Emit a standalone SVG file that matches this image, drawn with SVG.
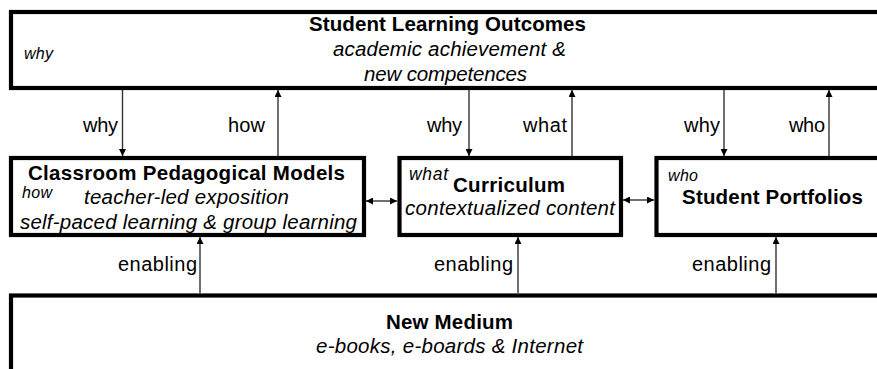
<svg xmlns="http://www.w3.org/2000/svg" width="877" height="369" viewBox="0 0 877 369">
  <style>
    text { font-family: "Liberation Sans", Arial, sans-serif; fill: #000; }
    .title { font-weight: bold; font-size: 20.5px; }
    .sub { font-style: italic; font-size: 20.5px; }
    .tag { font-style: italic; font-size: 16px; }
    .lbl { font-size: 20px; }
    .box { fill: #fff; stroke: #000; stroke-width: 4.2; }
    .link { stroke: #333; stroke-width: 1.4; fill: none; }
  </style>
  <defs>
    <marker id="arrow" viewBox="0 0 10 10" refX="10" refY="5" markerWidth="7" markerHeight="7" markerUnits="userSpaceOnUse" orient="auto-start-reverse">
      <path d="M0,0 L10,5 L0,10 z" fill="#000"/>
    </marker>
  </defs>

  <rect width="877" height="369" fill="#fff"/>

  <!-- top layer -->
  <g id="outcomes">
    <rect class="box" x="11" y="12" width="880" height="76"/>
    <text class="title" x="309" y="31" textLength="277" lengthAdjust="spacing">Student Learning Outcomes</text>
    <text class="sub" x="333" y="56" textLength="233" lengthAdjust="spacing">academic achievement &amp;</text>
    <text class="sub" x="364" y="81" textLength="163" lengthAdjust="spacing">new competences</text>
    <text class="tag" x="24" y="59" textLength="29" lengthAdjust="spacing">why</text>
  </g>

  <!-- middle layer -->
  <g id="pedagogy">
    <rect class="box" x="11" y="158" width="353" height="77"/>
    <text class="title" x="28" y="180" textLength="317" lengthAdjust="spacing">Classroom Pedagogical Models</text>
    <text class="tag" x="22" y="198" textLength="30" lengthAdjust="spacing">how</text>
    <text class="sub" x="84" y="204" textLength="205" lengthAdjust="spacing">teacher-led exposition</text>
    <text class="sub" x="20" y="229" textLength="337" lengthAdjust="spacing">self-paced learning &amp; group learning</text>
  </g>

  <g id="curriculum">
    <rect class="box" x="399.5" y="158" width="221.5" height="77"/>
    <text class="tag" x="409" y="180" style="font-size:17.5px" textLength="39" lengthAdjust="spacing">what</text>
    <text class="title" x="453" y="192" textLength="112" lengthAdjust="spacing">Curriculum</text>
    <text class="sub" x="405" y="215" textLength="210" lengthAdjust="spacing">contextualized content</text>
  </g>

  <g id="portfolios">
    <rect class="box" x="656.5" y="158" width="240" height="77"/>
    <text class="tag" x="668" y="181" textLength="30" lengthAdjust="spacing">who</text>
    <text class="title" x="682" y="204" textLength="181" lengthAdjust="spacing">Student Portfolios</text>
  </g>

  <!-- bottom layer -->
  <g id="medium">
    <rect class="box" x="11" y="295.5" width="880" height="90"/>
    <text class="title" x="386" y="329" textLength="127" lengthAdjust="spacing">New Medium</text>
    <text class="sub" x="316" y="353" textLength="267" lengthAdjust="spacing">e-books, e-boards &amp; Internet</text>
  </g>

  <!-- connectors -->
  <g id="connectors">
    <line class="link" x1="122.5" y1="90" x2="122.5" y2="156" marker-end="url(#arrow)"/>
    <line class="link" x1="278" y1="156" x2="278" y2="90" marker-end="url(#arrow)"/>
    <line class="link" x1="469" y1="90" x2="469" y2="156" marker-end="url(#arrow)"/>
    <line class="link" x1="572" y1="156" x2="572" y2="90" marker-end="url(#arrow)"/>
    <line class="link" x1="724" y1="90" x2="724" y2="156" marker-end="url(#arrow)"/>
    <line class="link" x1="829" y1="156" x2="829" y2="90" marker-end="url(#arrow)"/>

    <line class="link" x1="200" y1="293" x2="200" y2="237" marker-end="url(#arrow)"/>
    <line class="link" x1="518" y1="293" x2="518" y2="237" marker-end="url(#arrow)"/>
    <line class="link" x1="776" y1="293" x2="776" y2="237" marker-end="url(#arrow)"/>

    <line class="link" x1="366" y1="201" x2="397" y2="201" marker-start="url(#arrow)" marker-end="url(#arrow)"/>
    <line class="link" x1="623" y1="200" x2="654" y2="200" marker-start="url(#arrow)" marker-end="url(#arrow)"/>

    <text class="lbl" x="83" y="132" textLength="35" lengthAdjust="spacing">why</text>
    <text class="lbl" x="228" y="132" textLength="37" lengthAdjust="spacing">how</text>
    <text class="lbl" x="427" y="132" textLength="35" lengthAdjust="spacing">why</text>
    <text class="lbl" x="523" y="132" textLength="44" lengthAdjust="spacing">what</text>
    <text class="lbl" x="684" y="132" textLength="36" lengthAdjust="spacing">why</text>
    <text class="lbl" x="789" y="132" textLength="36" lengthAdjust="spacing">who</text>

    <text class="lbl" x="118" y="271" textLength="79" lengthAdjust="spacing">enabling</text>
    <text class="lbl" x="434" y="271" textLength="79" lengthAdjust="spacing">enabling</text>
    <text class="lbl" x="692" y="271" textLength="79" lengthAdjust="spacing">enabling</text>
  </g>
</svg>
